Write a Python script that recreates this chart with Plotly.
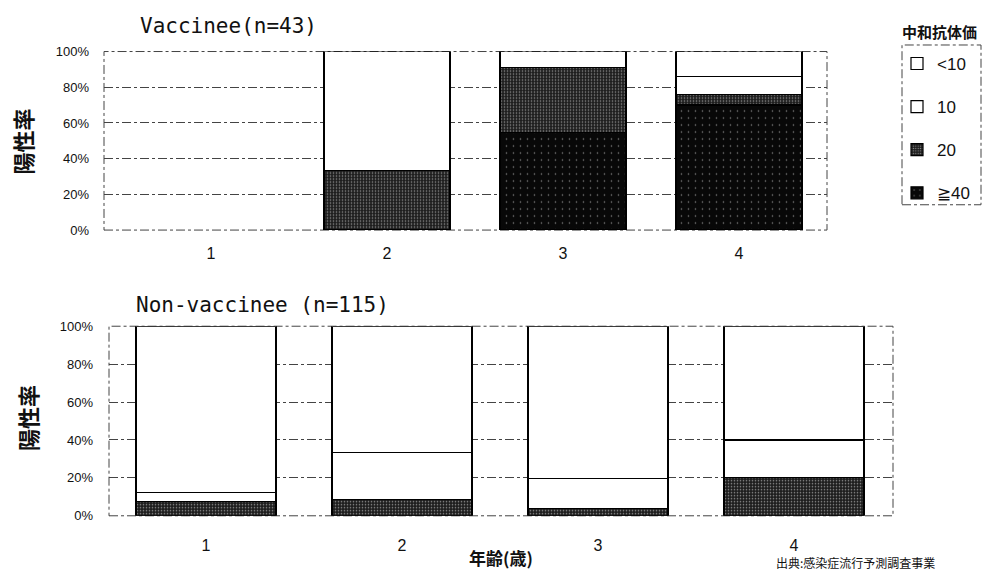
import plotly.graph_objects as go

# ---------------- data ----------------
ages = [1, 2, 3, 4]
age_labels = ["1", "2", "3", "4"]
series_names = ["≧40", "20", "10", "<10"]          # bottom -> top of stack
legend_ranks = [4, 3, 2, 1]

vacc_ge40 = [None, None, 54.5, 70.0]
vacc_20 = [None, 33.3, 36.4, 5.9]
vacc_10 = [None, None, None, 10.2]
vacc_lt10 = [None, 66.7, 9.1, 13.9]

non_ge40 = [None, None, None, None]
non_20 = [7.7, 8.4, 3.9, 20.3]
non_10 = [4.4, 24.8, 15.6, 19.7]
non_lt10 = [87.9, 66.8, 80.5, 60.0]

y_ticks = [0, 20, 40, 60, 80, 100]
y_tick_labels = ["0%", "20%", "40%", "60%", "80%", "100%"]

vacc = [vacc_ge40, vacc_20, vacc_10, vacc_lt10]
non = [non_ge40, non_20, non_10, non_lt10]

styles = {
    "≧40": dict(color="#080808", pattern=dict(shape=".", fgcolor="#ffffff", size=7, solidity=0.04)),
    "20": dict(color="#1e1e1e", pattern=dict(shape=".", fgcolor="#ffffff", size=3, solidity=0.22)),
    "10": dict(color="#ffffff", pattern=dict(shape="")),
    "<10": dict(color="#ffffff", pattern=dict(shape="")),
}

W, H = 994, 580
def px(x):
    return x / W
def py(y):
    return 1 - y / H

fig = go.Figure()
for name, rank, vv, nv in zip(series_names, legend_ranks, vacc, non):
    st = styles[name]
    fig.add_trace(go.Bar(
        x=ages, y=vv, name=name, legendgroup=name, legendrank=rank, showlegend=True,
        width=0.716, xaxis="x", yaxis="y",
        marker=dict(color=st["color"], pattern=st["pattern"],
                    line=dict(color="#000000", width=1.2)),
    ))
    fig.add_trace(go.Bar(
        x=ages, y=nv, name=name, legendgroup=name, legendrank=rank, showlegend=False,
        width=0.714, xaxis="x2", yaxis="y2",
        marker=dict(color=st["color"], pattern=st["pattern"],
                    line=dict(color="#000000", width=1.2)),
    ))

tick_font = dict(family="Liberation Sans", size=13, color="#111")
xtick_font = dict(family="Liberation Sans", size=16, color="#111")

top_dom_x = [px(104), px(827)]
top_dom_y = [py(229), py(45.7)]
bot_dom_x = [px(109), px(893)]
bot_dom_y = [py(522.3), py(327.7)]

fig.update_layout(
    width=W, height=H, autosize=False,
    margin=dict(l=0, r=0, t=0, b=0),
    paper_bgcolor="white", plot_bgcolor="white",
    barmode="stack",
    font=dict(family="Liberation Sans, Noto Sans CJK JP", color="#111"),
    xaxis=dict(domain=top_dom_x, anchor="y", range=[0.392, 4.5],
               tickvals=ages, ticktext=age_labels, showgrid=False, zeroline=False,
               showline=False, ticks="", tickfont=xtick_font, ticklabelstandoff=12),
    yaxis=dict(domain=top_dom_y, anchor="x", range=[0, 100], tickvals=y_ticks,
               ticktext=y_tick_labels, showgrid=True, gridcolor="#444", gridwidth=1,
               griddash="dashdot", zeroline=False, showline=False, ticks="",
               tickfont=tick_font, ticklabelstandoff=14),
    xaxis2=dict(domain=bot_dom_x, anchor="y2", range=[0.505, 4.505],
                tickvals=ages, ticktext=age_labels, showgrid=False, zeroline=False,
                showline=False, ticks="", tickfont=xtick_font, ticklabelstandoff=18),
    yaxis2=dict(domain=bot_dom_y, anchor="x2", range=[0, 100], tickvals=y_ticks,
                ticktext=y_tick_labels, showgrid=True, gridcolor="#444", gridwidth=1,
                griddash="dashdot", zeroline=False, showline=False, ticks="",
                tickfont=tick_font, ticklabelstandoff=15),
    legend=dict(
        x=px(897), xanchor="left", y=py(40), yanchor="top",
        traceorder="grouped", tracegroupgap=18,
        font=dict(family="Liberation Sans", size=17, color="#111"),
        bgcolor="rgba(0,0,0,0)", borderwidth=0,
        itemwidth=30,
    ),
)

# plot-area borders (dash-dot)
for xr, yr in (("x domain", "y domain"), ("x2 domain", "y2 domain")):
    fig.add_shape(type="rect", xref=xr, yref=yr, x0=0, x1=1, y0=0, y1=1,
                  line=dict(color="#444", width=1, dash="dashdot"), layer="below")

# legend box (dashed)
fig.add_shape(type="rect", xref="paper", yref="paper",
              x0=px(902), x1=px(981), y0=py(203), y1=py(39),
              line=dict(color="#444", width=1, dash="dashdot"))

def note(text, x, y, font, **kw):
    opts = dict(xanchor="center", yanchor="middle")
    opts.update(kw)
    fig.add_annotation(text=text, x=px(x), y=py(y), xref="paper", yref="paper",
                       showarrow=False, font=font, **opts)

note("<b>中和抗体価</b>", 939, 25, dict(family="Noto Sans CJK JP", size=15, color="#111"))

title_font = dict(family="DejaVu Sans Mono", size=21, color="#111")
note("Vaccinee(n=43)", 138, 20, title_font, xanchor="left")
note("Non-vaccinee (n=115)", 134, 306, title_font, xanchor="left")

ytitle_font = dict(family="Noto Sans CJK JP", size=22, color="#111")
note("<b>陽性率</b>", 22, 138, ytitle_font, textangle=-90)
note("<b>陽性率</b>", 27, 422, ytitle_font, textangle=-90)

note("<b>年齢(歳)</b>", 501, 565, dict(family="Noto Sans CJK JP", size=17, color="#111"))

note("出典:感染症流行予測調査事業", 775, 580,
     dict(family="Noto Sans CJK JP", size=12, color="#111"),
     xanchor="left", yanchor="bottom", height=14, valign="bottom", borderpad=0)

fig.write_html("out.html", config={"displayModeBar": False},
               post_script="document.body.style.margin='0px';")
